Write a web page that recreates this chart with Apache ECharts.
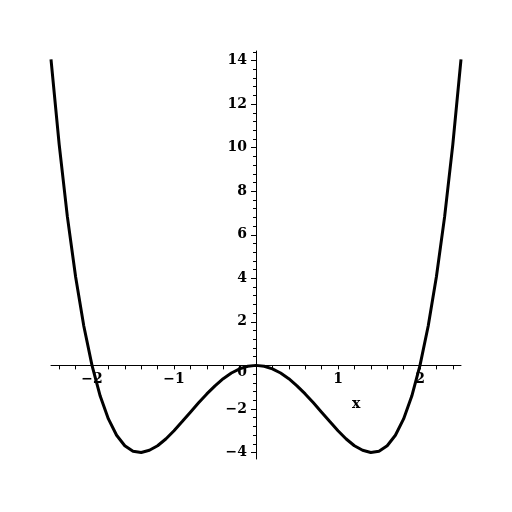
<!DOCTYPE html>
<html>
<head>
<meta charset="utf-8">
<script src="https://cdn.jsdelivr.net/npm/echarts@6/dist/echarts.min.js"></script>
<style>html,body{margin:0;padding:0;background:#fff}#c{width:512px;height:512px}</style>
</head>
<body>
<div id="c"></div>
<script>
var xs = [-2.5,-2.4,-2.3,-2.2,-2.1,-2.0,-1.9,-1.8,-1.7,-1.6,-1.5,-1.4,-1.3,-1.2,-1.1,-1.0,-0.9,-0.8,-0.7,-0.6,-0.5,-0.4,-0.3,-0.2,-0.1,0,
          0.1,0.2,0.3,0.4,0.5,0.6,0.7,0.8,0.9,1.0,1.1,1.2,1.3,1.4,1.5,1.6,1.7,1.8,1.9,2.0,2.1,2.2,2.3,2.4,2.5];
var ys = [14.06,10.14,6.82,4.07,1.81,0,-1.41,-2.46,-3.21,-3.69,-3.94,-4.00,-3.90,-3.69,-3.38,-3.00,-2.58,-2.15,-1.72,-1.31,-0.94,-0.61,-0.35,-0.16,-0.04,0,
          -0.04,-0.16,-0.35,-0.61,-0.94,-1.31,-1.72,-2.15,-2.58,-3.00,-3.38,-3.69,-3.90,-4.00,-3.94,-3.69,-3.21,-2.46,-1.41,0,1.81,4.07,6.82,10.14,14.06];
var xTickLabels = [-2,-1,1,2];
var xMinorTicks = [-2.4,-2.2,-2.0,-1.8,-1.6,-1.4,-1.2,-1.0,-0.8,-0.6,-0.4,-0.2,0,0.2,0.4,0.6,0.8,1.0,1.2,1.4,1.6,1.8,2.0,2.2,2.4];
var yTickLabels = [-4,-2,0,2,4,6,8,10,12,14];
var yMinorTicks = [-4,-3.6,-3.2,-2.8,-2.4,-2,-1.6,-1.2,-0.8,-0.4,0,0.4,0.8,1.2,1.6,2,2.4,2.8,3.2,3.6,4,4.4,4.8,5.2,5.6,6,6.4,6.8,7.2,7.6,8,8.4,8.8,9.2,9.6,10,10.4,10.8,11.2,11.6,12,12.4,12.8,13.2,13.6,14,14.4];
var xName = 'x';

var X_MIN = -2.5, X_MAX = 2.5, Y_MIN = -4.3, Y_MAX = 14.44;
var font = 'DejaVu Serif';
var FS = 14, FW = 'bold';
function fmt(v){ return String(v).replace('-', '\u2212'); }

var data = xs.map(function(x,i){ return [x, ys[i]]; });
var G = {left:51, right:51, top:51, bottom:53};
var W = 512, H = 512;

var chart = echarts.init(document.getElementById('c'), null, {renderer:'canvas'});
function hiddenX(gi){ return {type:'value', gridIndex:gi, min:X_MIN, max:X_MAX, show:false, splitLine:{show:false}}; }
function hiddenY(gi){ return {type:'value', gridIndex:gi, min:Y_MIN, max:Y_MAX, show:false, splitLine:{show:false}}; }

// first pass: main grid to locate the origin
chart.setOption({
  animation:false,
  grid:[Object.assign({}, G)],
  xAxis:[hiddenX(0)], yAxis:[hiddenY(0)],
  series:[{type:'line', data:[], symbol:'none'}]
});
var o = chart.convertToPixel({gridIndex:0}, [0,0]);
var ox = o[0], oy = o[1];

chart.setOption({
  animation:false,
  backgroundColor:'#fff',
  grid:[
    Object.assign({}, G),
    {left:G.left, right:G.right, top:G.top, bottom:H-oy},
    {left:ox, right:G.right, top:G.top, bottom:G.bottom},
    {left:ox, right:G.right, top:G.top, bottom:G.bottom}
  ],
  xAxis:[
    hiddenX(0),
    {type:'value', gridIndex:1, min:X_MIN, max:X_MAX, position:'bottom',
      axisLine:{onZero:false, lineStyle:{color:'#000', width:1}},
      axisTick:{show:true, length:4, customValues:xMinorTicks, lineStyle:{color:'#000'}},
      axisLabel:{customValues:xTickLabels, formatter:fmt, color:'#000', fontFamily:font, fontSize:FS, fontWeight:FW, margin:7},
      splitLine:{show:false}},
    hiddenX(2),
    hiddenX(3)
  ],
  yAxis:[
    hiddenY(0),
    {type:'value', gridIndex:1, show:false, splitLine:{show:false}},
    {type:'value', gridIndex:2, min:Y_MIN, max:Y_MAX, position:'left',
      axisLine:{onZero:false, lineStyle:{color:'#000', width:1}},
      axisTick:{show:true, length:5, customValues:yTickLabels, lineStyle:{color:'#000'}},
      axisLabel:{customValues:yTickLabels, color:'#000', fontFamily:font, fontSize:FS, fontWeight:FW, margin:9,
        formatter:function(v){ return v===0 ? '{z|0}' : fmt(v); },
        rich:{z:{fontFamily:font, fontSize:FS, fontWeight:FW, color:'#000', padding:[14,0,0,0]}}},
      splitLine:{show:false}},
    {type:'value', gridIndex:3, min:Y_MIN, max:Y_MAX, position:'left',
      axisLine:{show:false, onZero:false},
      axisTick:{show:true, length:3, customValues:yMinorTicks, lineStyle:{color:'#000'}},
      axisLabel:{show:false},
      splitLine:{show:false}}
  ],
  graphic:[{type:'text', left:352, top:397, style:{text:xName, fontFamily:font, fontSize:FS, fontWeight:FW, fill:'#000'}}],
  series:[{
    type:'line', xAxisIndex:0, yAxisIndex:0, data:data, symbol:'none', smooth:false,
    lineStyle:{color:'#000', width:3}, clip:false, z:10
  }]
}, true);
</script>
</body>
</html>
